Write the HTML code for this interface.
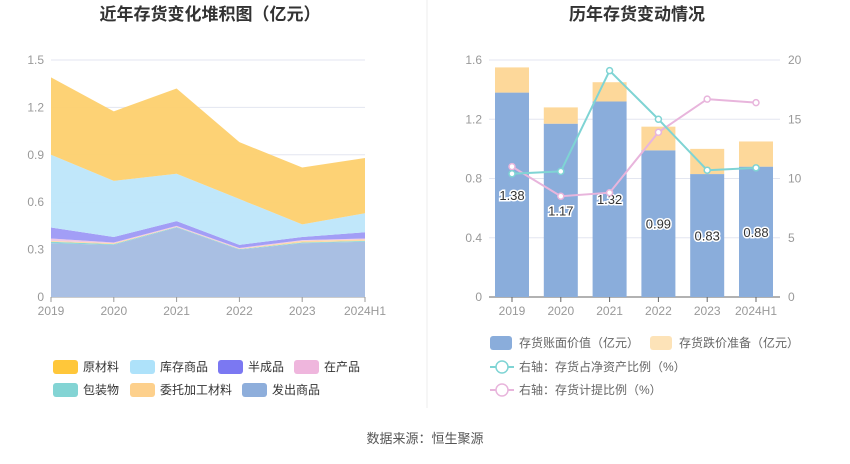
<!DOCTYPE html>
<html><head><meta charset="utf-8">
<style>
body{margin:0;background:#fff;width:850px;height:459px;overflow:hidden;font-family:"Liberation Sans","Noto Sans CJK SC",sans-serif;}
svg text{font-family:"Liberation Sans","Noto Sans CJK SC",sans-serif;}
</style></head>
<body>
<svg id="c" width="850" height="459" xmlns="http://www.w3.org/2000/svg">
<text x="210" y="20" text-anchor="middle" font-size="17" font-weight="bold" fill="#333">近年存货变化堆积图（亿元）</text>
<text x="637" y="20" text-anchor="middle" font-size="17" font-weight="bold" fill="#333">历年存货变动情况</text>
<line x1="427" y1="0" x2="427" y2="408" stroke="#eee"/>
<g id="left"></g><g id="right"></g>
<text x="425" y="443" text-anchor="middle" font-size="13" fill="#555">数据来源：恒生聚源</text>
</svg>
<script>
const cats=["2019","2020","2021","2022","2023","2024H1"];
const seriesNames=["发出商品","包装物","委托加工材料","在产品","半成品","库存商品","原材料"];
const faChu=[0.34,0.33,0.44,0.30,0.34,0.35];
const baoZhuang=[0.01,0.005,0.003,0.003,0.005,0.005];
const weiTuo=[0.005,0.005,0.002,0.002,0.01,0.01];
const zaiChan=[0.015,0.005,0.005,0.005,0.005,0.005];
const banCheng=[0.07,0.035,0.03,0.02,0.02,0.04];
const kuCun=[0.46,0.355,0.30,0.29,0.08,0.12];
const yuanCai=[0.49,0.44,0.54,0.36,0.36,0.35];
const leftTicks=[0,0.3,0.6,0.9,1.2,1.5];
const bookVal=[1.38,1.17,1.32,0.99,0.83,0.88];
const provision=[0.17,0.11,0.13,0.16,0.17,0.17];
const ratioNet=[10.4,10.6,19.1,15.0,10.7,10.9];
const ratioProv=[11.0,8.5,8.8,13.9,16.7,16.4];
const rightTicksL=[0,0.4,0.8,1.2,1.6];
const rightTicksR=[0,5,10,15,20];

const NS="http://www.w3.org/2000/svg";
function mk(p,tag,a,txt){const e=document.createElementNS(NS,tag);for(const k in a)e.setAttribute(k,a[k]);if(txt!==undefined)e.textContent=txt;p.appendChild(e);return e;}
const L=document.getElementById('left'),R=document.getElementById('right');

const lx=i=>51+i*(365-51)/5, ly=v=>297-v*(237/1.5);
leftTicks.forEach(t=>{
 const g=mk(L,'line',{x1:51,x2:365,y1:ly(t),y2:ly(t),stroke:t?'#e3e6f0':'#999'});
 
 
 const tx=mk(L,'text',{x:44,y:ly(t)+4,'text-anchor':'end','font-size':12,fill:'#999'},String(t));
 
 
});
const stackArr=[faChu,baoZhuang,weiTuo,zaiChan,banCheng,kuCun,yuanCai];
const stackCol=['#a9bfe3','#86d4d6','#fdd9a0','#f0c5e3','#9d99f5','#bde6fa','#fdd06e'];
let base=[0,0,0,0,0,0];
stackArr.forEach((s,k)=>{
 const top=base.map((b,i)=>b+s[i]);
 let d=top.map((v,i)=>(i?'L':'M')+lx(i)+','+ly(v)).join('');
 for(let i=5;i>=0;i--)d+='L'+lx(i)+','+ly(base[i]);
 const p=mk(L,'path',{d:d+'Z',fill:stackCol[k],opacity:k==0?1:0.95});
 
 
 base=top;
});
cats.forEach((c,i)=>{
 mk(L,'line',{x1:lx(i),x2:lx(i),y1:297,y2:302,stroke:'#999'});
 const t=mk(L,'text',{x:lx(i),y:315,'text-anchor':'middle','font-size':12,fill:'#999'},c);
 
 
});
const lleg=[['原材料','#ffc73a',53,367],['库存商品','#aee2fa',130,367],['半成品','#7b78f2',218,367],['在产品','#efb6dd',294,367],['包装物','#83d4d4',53,390],['委托加工材料','#fdd08c',130,390],['发出商品','#8eaedb',242,390]];
lleg.forEach(l=>{
 const g=mk(L,'g',{});
 
 
 mk(g,'rect',{x:l[2],y:l[3]-7,width:25,height:14,rx:3,fill:l[1]});
 mk(g,'text',{x:l[2]+30,y:l[3]+4,'font-size':12,fill:'#333'},l[0]);
});

const bx=i=>512+i*48.8, byL=v=>297-v*(237/1.6), byR=v=>297-v*(237/20);
rightTicksL.forEach((t,k)=>{
 const g=mk(R,'line',{x1:489,x2:780,y1:byL(t),y2:byL(t),stroke:t?'#e3e6f0':'#666'});
 
 
 const tx=mk(R,'text',{x:482,y:byL(t)+4,'text-anchor':'end','font-size':12,fill:'#999'},String(t));
 
 
 const t2=mk(R,'text',{x:788,y:byR(rightTicksR[k])+4,'font-size':12,fill:'#999'},String(rightTicksR[k]));
 
 
});
cats.forEach((c,i)=>{
 const b=mk(R,'rect',{x:bx(i)-17,y:byL(bookVal[i]),width:34,height:byL(0)-byL(bookVal[i]),fill:'#8aaddb'});
 
 
 const p=mk(R,'rect',{x:bx(i)-17,y:byL(bookVal[i]+provision[i]),width:34,height:byL(bookVal[i])-byL(bookVal[i]+provision[i]),fill:'#fdd89a'});
 
 
 const t=mk(R,'text',{x:bx(i),y:byL(bookVal[i]/2)+5,'text-anchor':'middle','font-size':13,fill:'#333',stroke:'#fff','stroke-width':3,'paint-order':'stroke'},bookVal[i].toFixed(2));
 
 
 mk(R,'line',{x1:bx(i),x2:bx(i),y1:297,y2:302,stroke:'#666'});
 const xt=mk(R,'text',{x:bx(i),y:315,'text-anchor':'middle','font-size':12,fill:'#999'},c);
 
 
});
[[ratioProv,'#e8b5dc','line-provision-ratio'],[ratioNet,'#7fd4d4','line-net-asset-ratio']].forEach(s=>{
 const pl=mk(R,'polyline',{points:s[0].map((v,i)=>bx(i)+','+byR(v)).join(' '),fill:'none',stroke:s[1],'stroke-width':2});
 
 
 s[0].forEach((v,i)=>{
  const c=mk(R,'circle',{cx:bx(i),cy:byR(v),r:3,fill:'#fff',stroke:s[1],'stroke-width':1.5});
  
  
 });
});
const rleg=[['存货账面价值（亿元）','#8aaddb',490,343,'r'],['存货跌价准备（亿元）','#fde3b8',650,343,'r'],['右轴：存货占净资产比例（%）','#7fd4d4',490,367,'l'],['右轴：存货计提比例（%）','#e8b5dc',490,390,'l']];
rleg.forEach(l=>{
 const g=mk(R,'g',{});
 
 
 if(l[4]=='r')mk(g,'rect',{x:l[2],y:l[3]-7,width:22,height:14,rx:3,fill:l[1]});
 else{mk(g,'line',{x1:l[2],x2:l[2]+24,y1:l[3],y2:l[3],stroke:l[1],'stroke-width':2});mk(g,'circle',{cx:l[2]+12,cy:l[3],r:6,fill:'#fff',stroke:l[1],'stroke-width':1.5});}
 mk(g,'text',{x:l[2]+29,y:l[3]+4,'font-size':12,fill:'#666'},l[0]);
});
</script>
</body></html>
